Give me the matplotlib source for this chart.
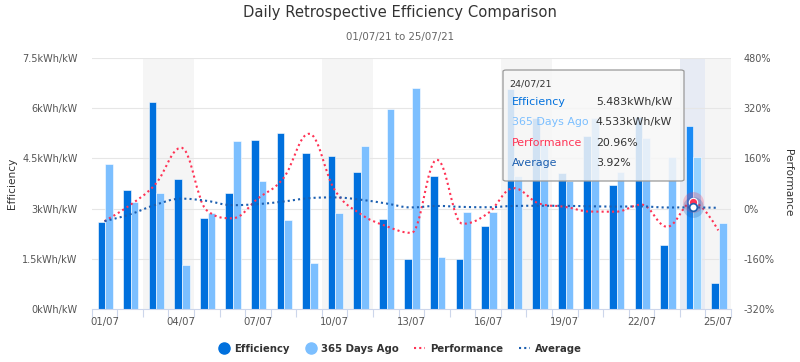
import matplotlib
matplotlib.use("Agg")
import matplotlib.pyplot as plt
from matplotlib.path import Path
from matplotlib.patches import PathPatch, FancyBboxPatch
from matplotlib.lines import Line2D
import numpy as np

plt.rcParams['font.family'] = ['DejaVu Sans']

# ---------------- data ----------------
days = ["01/07", "02/07", "03/07", "04/07", "05/07", "06/07", "07/07", "08/07",
        "09/07", "10/07", "11/07", "12/07", "13/07", "14/07", "15/07", "16/07",
        "17/07", "18/07", "19/07", "20/07", "21/07", "22/07", "23/07", "24/07", "25/07"]
efficiency = [2.60, 3.55, 6.20, 3.88, 2.71, 3.46, 5.04, 5.25, 4.67, 4.57, 4.08, 2.68, 1.50,
              3.96, 1.50, 2.48, 6.57, 5.70, 4.05, 5.18, 3.70, 5.75, 1.91, 5.483, 0.79]
days_ago = [4.34, 3.19, 3.47, 1.32, 2.87, 5.01, 3.81, 2.66, 1.38, 2.86, 4.88, 5.98, 6.59,
            1.55, 2.89, 2.90, 3.98, 4.92, 3.83, 5.72, 4.10, 5.10, 4.53, 4.533, 2.58]
performance = [-40.1, 11.3, 78.7, 193.9, -5.6, -30.9, 32.3, 97.4, 238.4, 59.8, -16.4, -55.2,
               -77.2, 155.5, -48.1, -14.5, 65.1, 15.9, 5.7, -9.4, -9.8, 12.7, -57.8, 20.96, -69.4]
average = [-40.1, -18.3, 12.3, 31.7, 24.7, 10.9, 14.3, 22.6, 33.2, 35.7, 28.6, 16.6, 3.8,
           8.5, 5.4, 4.4, 8.4, 9.0, 8.8, 7.4, 6.5, 6.9, 3.5, 3.92, 2.4]
weekends = [(2, 3), (9, 10), (16, 17), (23, 24)]
hover_idx = 23
left_ticks = [0, 1.5, 3, 4.5, 6, 7.5]
left_labels = ["0kWh/kW", "1.5kWh/kW", "3kWh/kW", "4.5kWh/kW", "6kWh/kW", "7.5kWh/kW"]
right_ticks = [-320, -160, 0, 160, 320, 480]
right_labels = ["-320%", "-160%", "0%", "160%", "320%", "480%"]

# ---------------- style ----------------
C_EFF = "#0070dd"
C_AGO = "#7cbfff"
C_EFF_H = "#1a8af5"
C_AGO_H = "#95d2ff"
C_PERF = "#ff3355"
C_AVG = "#1c5fb0"
TXT = "#333333"
LBL = "#555555"

W, H = 800, 362
fig = plt.figure(figsize=(W / 100, H / 100), dpi=100)
L, R, T, B = 91.7, 731, 58, 309
ax = fig.add_axes([L / W, 1 - B / H, (R - L) / W, (B - T) / H])
ax2 = ax.twinx()

n = len(days)
x = np.arange(n)
ax.set_xlim(-0.5, n - 0.5)
ax.set_ylim(0, 7.5)
ax2.set_ylim(-320, 480)

# weekend bands
for a, b in weekends:
    ax.axvspan(a - 0.5, b + 0.5, color="#f5f5f5", zorder=0, lw=0)
ax.axvspan(hover_idx - 0.5, hover_idx + 0.5, color="#e7ebf4", zorder=0.1, lw=0)

# grid
for t in left_ticks[1:]:
    ax.axhline(t, color="#e6e6e6", lw=0.8, zorder=0.5)

# bars
bw = 0.30
eff_cols = [C_EFF_H if i == hover_idx else C_EFF for i in range(n)]
ago_cols = [C_AGO_H if i == hover_idx else C_AGO for i in range(n)]
ax.bar(x - 0.12, efficiency, width=bw, color=eff_cols, edgecolor="white", linewidth=0.4, zorder=2)
ax.bar(x + 0.18, days_ago, width=bw, color=ago_cols, edgecolor="white", linewidth=0.4, zorder=2)


def hc_spline(xs, ys, smoothing=1.5):
    m = len(xs)
    denom = smoothing + 1
    lc = [None] * m
    rc = [None] * m
    for i in range(1, m - 1):
        px, py = xs[i], ys[i]
        lx, ly = xs[i - 1], ys[i - 1]
        nx, ny = xs[i + 1], ys[i + 1]
        lcx = (smoothing * px + lx) / denom
        lcy = (smoothing * py + ly) / denom
        rcx = (smoothing * px + nx) / denom
        rcy = (smoothing * py + ny) / denom
        if rcx != lcx:
            corr = ((rcy - lcy) * (rcx - px)) / (rcx - lcx) + py - rcy
            lcy += corr
            rcy += corr
        if lcy > ly and lcy > py:
            lcy = max(ly, py)
            rcy = 2 * py - lcy
        elif lcy < ly and lcy < py:
            lcy = min(ly, py)
            rcy = 2 * py - lcy
        if rcy > ny and rcy > py:
            rcy = max(ny, py)
            lcy = 2 * py - rcy
        elif rcy < ny and rcy < py:
            rcy = min(ny, py)
            lcy = 2 * py - rcy
        lc[i] = (lcx, lcy)
        rc[i] = (rcx, rcy)
    verts = [(xs[0], ys[0])]
    codes = [Path.MOVETO]
    for i in range(1, m):
        c1 = rc[i - 1] if rc[i - 1] is not None else (xs[i - 1], ys[i - 1])
        c2 = lc[i] if lc[i] is not None else (xs[i], ys[i])
        verts += [c1, c2, (xs[i], ys[i])]
        codes += [Path.CURVE4] * 3
    return Path(verts, codes)


dot = (0, (1, 1.5))
ax2.add_patch(PathPatch(hc_spline(list(x), performance), fill=False, edgecolor=C_PERF,
                        lw=1.5, linestyle=dot, zorder=3))
ax2.add_patch(PathPatch(hc_spline(list(x), average), fill=False, edgecolor=C_AVG,
                        lw=1.5, linestyle=dot, zorder=3))

# hover markers
ax2.plot([hover_idx], [performance[hover_idx]], 'o', ms=15, color=C_PERF, alpha=0.25, mew=0, zorder=4)
ax2.plot([hover_idx], [average[hover_idx]], 'o', ms=15, color=C_AVG, alpha=0.25, mew=0, zorder=4)
ax2.plot([hover_idx], [performance[hover_idx]], 'o', ms=6, color=C_PERF, mec="white", mew=0.8, zorder=5)
ax2.plot([hover_idx], [average[hover_idx]], 'o', ms=5.5, color="white", mec=C_AVG, mew=1.2, zorder=5)

# axes styling
for a_ in (ax, ax2):
    for s in a_.spines.values():
        s.set_visible(False)
ax.spines['bottom'].set_visible(True)
ax.spines['bottom'].set_color("#ccd6eb")
ax.spines['bottom'].set_linewidth(0.8)

ax.set_xticks(np.arange(-0.5, n, 1.0))
ax.set_xticklabels([])
ax.tick_params(axis='x', which='major', length=6, color="#ccd6eb", width=0.8)
ax.set_xticks(x[::3], minor=True)
ax.set_xticklabels(days[::3], minor=True)
ax.tick_params(axis='x', which='minor', length=0, pad=6, labelsize=7.3, labelcolor=LBL)

ax.set_yticks(left_ticks)
ax.set_yticklabels(left_labels)
ax.tick_params(axis='y', length=0, pad=10, labelsize=7.0, labelcolor=LBL)
ax2.set_yticks(right_ticks)
ax2.set_yticklabels(right_labels)
ax2.tick_params(axis='y', length=0, pad=9, labelsize=7.0, labelcolor=LBL)

fig.text(12 / W, 1 - 183 / H, "Efficiency", rotation=90, ha="center", va="center", fontsize=7.6, color=TXT)
fig.text(788 / W, 1 - 183 / H, "Performance", rotation=270, ha="center", va="center", fontsize=7.6, color=TXT)

# titles
fig.text(0.5, 1 - 13 / H, "Daily Retrospective Efficiency Comparison", ha="center", va="center",
         fontsize=10.6, color=TXT)
fig.text(0.5, 1 - 37 / H, "01/07/21 to 25/07/21", ha="center", va="center", fontsize=7.4, color="#666666")

# legend
handles = [
    Line2D([], [], marker='o', ls='None', color=C_EFF, ms=8),
    Line2D([], [], marker='o', ls='None', color=C_AGO, ms=8),
    Line2D([], [], ls=dot, color=C_PERF, lw=1.5),
    Line2D([], [], ls=dot, color=C_AVG, lw=1.5),
]
fig.legend(handles, ["Efficiency", "365 Days Ago", "Performance", "Average"], loc="center",
           bbox_to_anchor=(0.5, 1 - 349 / H), ncol=4, frameon=False, handlelength=1.1,
           handletextpad=0.5, columnspacing=1.5, prop={'size': 7.3, 'weight': 'bold'},
           labelcolor=TXT)

# tooltip
tx0, ty0, tx1, ty1 = 503, 70, 684, 181
tip = FancyBboxPatch(((tx0) / W, 1 - ty1 / H), (tx1 - tx0) / W, (ty1 - ty0) / H,
                     boxstyle="round,pad=0,rounding_size=0.004", transform=fig.transFigure,
                     facecolor=(0.97, 0.97, 0.97, 0.85), edgecolor="#999999", lw=0.9, zorder=20)
fig.add_artist(tip)
fig.text(509 / W, 1 - 84 / H, "24/07/21", fontsize=6.8, color=TXT, va="center", zorder=21)
rows = [("Efficiency", C_EFF, "5.483kWh/kW"), ("365 Days Ago", C_AGO, "4.533kWh/kW"),
        ("Performance", C_PERF, "20.96%"), ("Average", C_AVG, "3.92%")]
for k, (lab, col, val) in enumerate(rows):
    yy = 102 + k * 20.3
    fig.text(512 / W, 1 - yy / H, lab, fontsize=7.9, color=col, va="center", zorder=21)
    fig.text(596 / W, 1 - yy / H, val, fontsize=7.9, color=TXT, va="center", zorder=21)

fig.savefig("out.png", dpi=100)
